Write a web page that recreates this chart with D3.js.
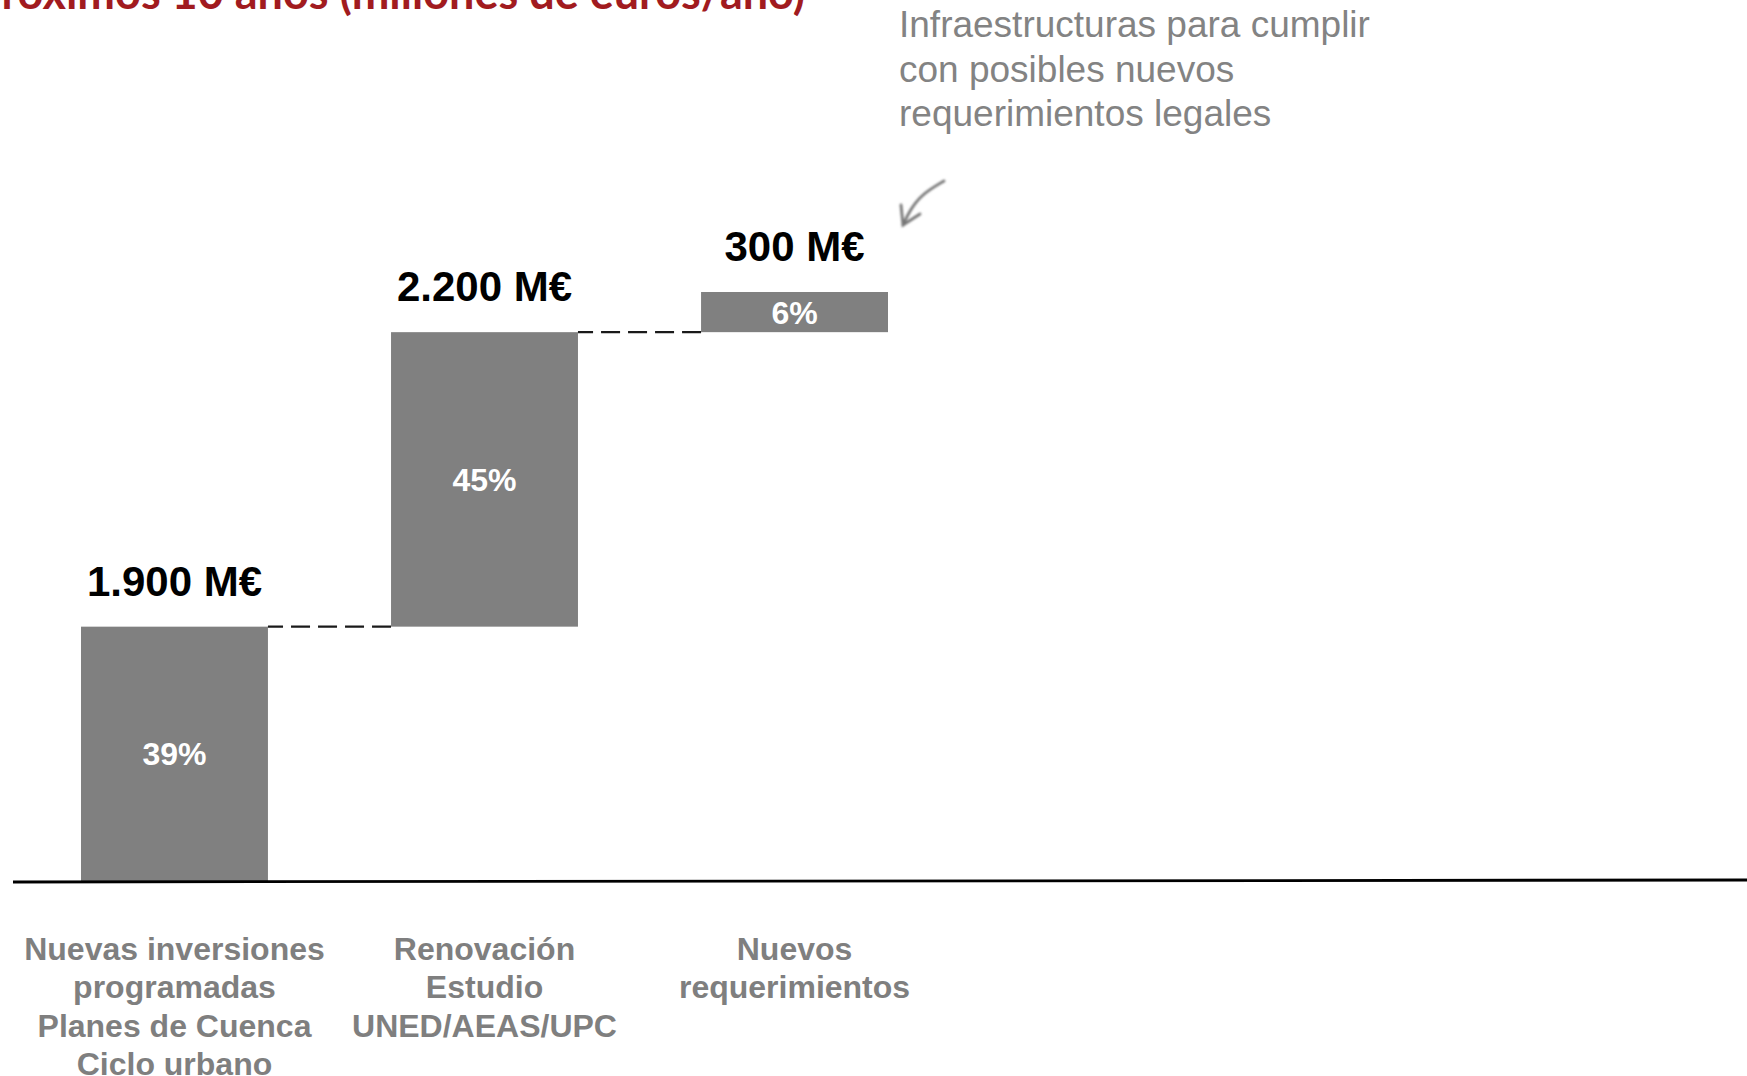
<!DOCTYPE html>
<html>
<head>
<meta charset="utf-8">
<script src="https://cdn.jsdelivr.net/npm/d3@7"></script>
<style>
  html, body { margin: 0; padding: 0; background: #ffffff; overflow: hidden; }
  svg { display: block; }
</style>
</head>
<body>
<svg id="chart" width="1747" height="1076"></svg>
<script>
// Investment blocks (millions of euros) stacked as a waterfall
const categories = ["nuevas", "renovacion", "requerimientos"];
const categoryLabels = [
  ["Nuevas inversiones", "programadas", "Planes de Cuenca", "Ciclo urbano"],
  ["Renovación", "Estudio", "UNED/AEAS/UPC"],
  ["Nuevos", "requerimientos"]
];
const values = [1900, 2200, 300];
const valueLabels = ["1.900 M€", "2.200 M€", "300 M€"];
const shareLabels = ["39%", "45%", "6%"];
const titleText = "próximos 10 años (millones de euros/año)";
const noteLines = ["Infraestructuras para cumplir", "con posibles nuevos", "requerimientos legales"];

const svg = d3.select("#chart");
const W = 1747, H = 1076;

const baseY = 881;
const grey = "#7f7f7f";
const sans = "'Liberation Sans', Arial, Helvetica, sans-serif";

// running totals for the floating bars
let acc = 0;
const rows = values.map((v, i) => {
  const r = { key: categories[i], start: acc, end: acc + v, value: v, i };
  acc += v;
  return r;
});

const x = d3.scaleBand()
  .domain(categories)
  .range([81, 888])
  .paddingInner(0.397)
  .paddingOuter(0);

const y = d3.scaleLinear()
  .domain([0, d3.sum(values)])
  .range([baseY, 292]);

// title (runs off the top-left edge)
svg.append("text")
  .attr("x", 805)
  .attr("y", 9)
  .attr("text-anchor", "end")
  .attr("font-family", "Lato, 'Open Sans', sans-serif")
  .attr("font-weight", 700)
  .attr("font-size", 45)
  .attr("fill", "#a11b1f")
  .text(titleText);

// bars
svg.append("g").selectAll("rect")
  .data(rows)
  .join("rect")
  .attr("x", d => x(d.key))
  .attr("width", x.bandwidth())
  .attr("y", d => y(d.end))
  .attr("height", d => y(d.start) - y(d.end))
  .attr("fill", "#808080");

// dashed connectors between consecutive bars
svg.append("g").selectAll("line")
  .data(rows.slice(1))
  .join("line")
  .attr("x1", d => x(d.key))
  .attr("x2", d => x(categories[d.i - 1]) + x.bandwidth())
  .attr("y1", d => y(d.start))
  .attr("y2", d => y(d.start))
  .attr("stroke", "#1a1a1a")
  .attr("stroke-width", 2.4)
  .attr("stroke-dasharray", "19 8");

// totals above bars
svg.append("g").selectAll("text")
  .data(rows)
  .join("text")
  .attr("x", d => x(d.key) + x.bandwidth() / 2)
  .attr("y", d => y(d.end) - 31)
  .attr("text-anchor", "middle")
  .attr("font-family", sans)
  .attr("font-weight", 700)
  .attr("font-size", 42)
  .attr("fill", "#000")
  .text((d, i) => valueLabels[i]);

// shares inside bars
svg.append("g").selectAll("text")
  .data(rows)
  .join("text")
  .attr("x", d => x(d.key) + x.bandwidth() / 2)
  .attr("y", d => (y(d.start) + y(d.end)) / 2)
  .attr("dy", "0.36em")
  .attr("text-anchor", "middle")
  .attr("font-family", sans)
  .attr("font-weight", 700)
  .attr("font-size", 32)
  .attr("fill", "#ffffff")
  .text((d, i) => shareLabels[i]);

// baseline
svg.append("line")
  .attr("x1", 13).attr("x2", W)
  .attr("y1", baseY + 1).attr("y2", baseY - 1)
  .attr("stroke", "#000")
  .attr("stroke-width", 2.8);

// category labels through a bottom axis
const axis = svg.append("g")
  .attr("transform", `translate(0,${baseY})`)
  .call(d3.axisBottom(x).tickSize(0).tickFormat(() => ""));
axis.select(".domain").remove();
axis.selectAll(".tick text").remove();
axis.selectAll(".tick").each(function(d, i) {
  const t = d3.select(this).append("text")
    .attr("y", 79)
    .attr("text-anchor", "middle")
    .attr("font-family", sans)
    .attr("font-weight", 700)
    .attr("font-size", 32)
    .attr("fill", grey);
  categoryLabels[i].forEach((line, k) => {
    t.append("tspan").attr("x", 0).attr("dy", k === 0 ? 0 : 38.3).text(line);
  });
});

// side note with a hand-drawn arrow
const note = svg.append("text")
  .attr("x", 899)
  .attr("y", 37)
  .attr("font-family", sans)
  .attr("font-size", 37)
  .attr("fill", "#838383");
noteLines.forEach((line, k) => {
  note.append("tspan").attr("x", 899).attr("dy", k === 0 ? 0 : 44.5).text(line);
});

const defs = svg.append("defs");
defs.append("filter").attr("id", "soft")
  .append("feGaussianBlur").attr("stdDeviation", 0.8);

const arrow = svg.append("g")
  .attr("fill", "none")
  .attr("stroke", "#777")
  .attr("stroke-width", 2.8)
  .attr("stroke-linecap", "round")
  .attr("filter", "url(#soft)");
arrow.append("path").attr("d", d3.line().curve(d3.curveBasis)([[944, 181], [922, 194], [910, 210], [903, 225]]));
arrow.append("path").attr("d", d3.line()([[901, 205], [903, 225], [920, 214]]));
</script>
</body>
</html>
